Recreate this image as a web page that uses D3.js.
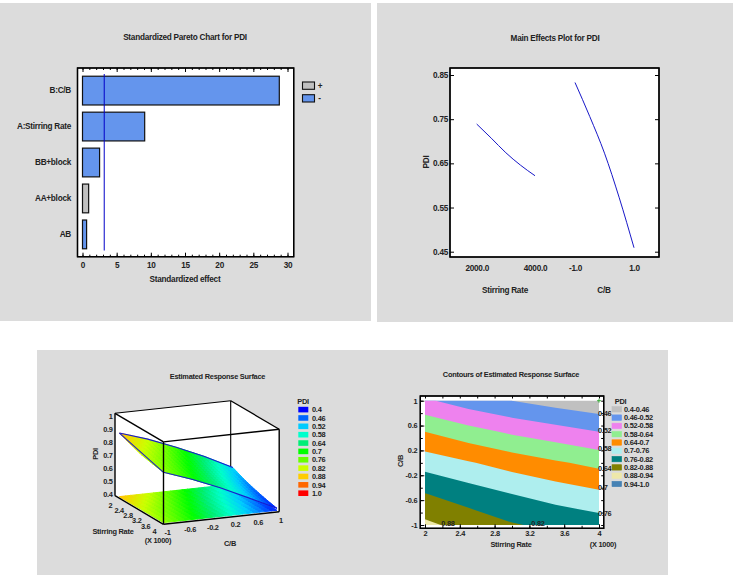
<!DOCTYPE html>
<html><head><meta charset="utf-8">
<script src="https://cdn.jsdelivr.net/npm/d3@7"></script>
<style>
html,body{margin:0;padding:0;background:#fff}
svg{display:block}
text{font-family:"Liberation Sans",Arial,sans-serif;font-weight:bold;fill:#222;letter-spacing:-.25px}
.tick text{font-family:"Liberation Sans",Arial,sans-serif}
</style></head><body>
<svg id="c" width="736" height="583"></svg>
<script>
// ---- data ----
const effectNames = ["B:C/B","A:Stirring Rate","BB+block","AA+block","AB"];
const effectValues = [28.8,9.1,2.5,0.9,0.6];
const effectSigns = ["-","-","-","+","-"];
const effectCritical = 3.18;
const rateLevels = [2000,2500,3000,3500,4000];
const rateEffect = [0.739,0.707,0.674,0.646,0.622];
const cbLevels = [-1,-0.5,0,0.5,1];
const cbEffect = [0.833,0.756,0.673,0.572,0.459];
const gridRates = [2,2.5,3,3.5,4];
const gridCb = [-1,-0.5,0,0.5,1];
// one row per C/B level, one column per stirring rate (x 1000)
const pdiRowCbM1 = [0.893,0.857,0.825,0.806,0.790];
const pdiRowCbM05 = [0.822,0.790,0.760,0.735,0.712];
const pdiRowCb0 = [0.735,0.705,0.675,0.648,0.623];
const pdiRowCb05 = [0.640,0.603,0.570,0.545,0.520];
const pdiRowCb1 = [0.530,0.490,0.460,0.435,0.415];
const surfaceLevels = [0.4,0.46,0.52,0.58,0.64,0.7,0.76,0.82,0.88,0.94,1.0];
const surfaceLabels = ["0.4","0.46","0.52","0.58","0.64","0.7","0.76","0.82","0.88","0.94","1.0"];
const surfaceColors = ["#0000ff","#0066ff","#00ccff","#00ffcc","#00ee77","#00ff00","#66ff00","#ccff00","#ffcc00","#ff6600","#ff0000"];
const bandThresholds = [0.4,0.46,0.52,0.58,0.64,0.7,0.76,0.82,0.88,0.94];
const bandLabels = ["0.4-0.46","0.46-0.52","0.52-0.58","0.58-0.64","0.64-0.7","0.7-0.76","0.76-0.82","0.82-0.88","0.88-0.94","0.94-1.0"];
const bandColors = ["#c0c0c0","#6495ed","#ee82ee","#90ee90","#ff8c00","#aeeeee","#008080","#808000","#eee8aa","#4682b4"];
const contourRightLabels = ["0.46","0.52","0.58","0.64","0.7","0.76"];
const contourBottomLabels = ["0.88","0.82"];
const ratesTicks3d = [2,2.4,2.8,3.2,3.6,4];
const cbTicks3d = [-1,-0.6,-0.2,0.2,0.6,1];
const pdiTicks3d = [0.4,0.5,0.6,0.7,0.8,0.9,1];
const pdiRows = [pdiRowCbM1,pdiRowCbM05,pdiRowCb0,pdiRowCb05,pdiRowCb1];

const svg = d3.select("#c");
const BG = "#dcdcdc", INK="#000", FS=8.2;
function panel(x,y,w,h){svg.append("rect").attr("x",x).attr("y",y).attr("width",w).attr("height",h).attr("fill",BG);}
function label(t,x,y,o={}){
  const s=svg.append("text").text(t).attr("x",x).attr("y",y).attr("dy",".35em")
    .attr("text-anchor",o.anchor||"middle").attr("font-size",o.size||FS);
  if(o.rot) s.attr("transform",`rotate(${o.rot} ${x} ${y})`);
  return s;
}
function frame(x0,y0,x1,y1,fill){
  return svg.append("rect").attr("x",x0).attr("y",y0).attr("width",x1-x0).attr("height",y1-y0)
    .attr("fill",fill||"none").attr("stroke",INK).attr("stroke-width",1.3);
}
function styleAxis(g,size){
  g.select(".domain").remove();
  g.selectAll("line").attr("stroke",INK).attr("stroke-width",1);
  g.selectAll("text").attr("font-size",size||FS).attr("fill","#222");
  g.attr("font-family",null).attr("font-size",null);
  return g;
}
panel(0,3,371,318);
panel(377,3,356,319);
panel(37,350,631,225);

// ---- Panel 1: Pareto ----
{
  const L=77.5,R=293.7,T=68,B=256.7;
  frame(L,T,R,B,"#fff");
  const x=d3.scaleLinear([0,30],[82.5,287.5]);
  const y=d3.scaleBand(effectNames,[75.5,249.5]).paddingInner(0.2).paddingOuter(0.02);
  const color={"+":"#c0c0c0","-":"#6495ed"};
  svg.append("g").selectAll("rect").data(effectNames).join("rect")
    .attr("x",x(0)).attr("y",d=>y(d)).attr("height",y.bandwidth())
    .attr("width",(d,i)=>x(effectValues[i])-x(0))
    .attr("fill",(d,i)=>color[effectSigns[i]]).attr("stroke","#111").attr("stroke-width",1.2);
  svg.append("line").attr("x1",x(effectCritical)).attr("x2",x(effectCritical)).attr("y1",74).attr("y2",250.5)
    .attr("stroke","#0000c8").attr("stroke-width",1);
  const minor=d3.range(0,31);
  const ax=(fn,yy,vals,size,fmt,pad)=>styleAxis(svg.append("g").attr("transform",`translate(0,${yy})`)
    .call(fn(x).tickValues(vals).tickSize(size).tickPadding(pad).tickFormat(fmt)));
  ax(d3.axisBottom,B,minor,-2,"",0);
  ax(d3.axisBottom,B,d3.range(0,31,5),-4,d3.format("d"),5);
  ax(d3.axisTop,T,minor,-2,"",0);
  ax(d3.axisTop,T,d3.range(0,31,5),-4,"",0);
  frame(L,T,R,B);
  effectNames.forEach(n=>label(n,71,y(n)+y.bandwidth()/2,{anchor:"end"}));
  label("Standardized Pareto Chart for PDI",185,37);
  label("Standardized effect",185,279);
  [["+",82,320],["-",94.7,319.5]].forEach(([s,yy,tx])=>{
    svg.append("rect").attr("x",302.5).attr("y",yy).attr("width",12).attr("height",7.3)
      .attr("fill",color[s]).attr("stroke","#111").attr("stroke-width",1.1);
    label(s,tx,yy+3.8);
  });
}

// ---- Panel 2: Main effects ----
{
  const L=450,R=659,T=68,B=257;
  frame(L,T,R,B,"#fff");
  const y=d3.scaleLinear([0.45,0.85],[251.7,75]);
  const xr=d3.scaleLinear([2000,4000],[476.7,535]);
  const xc=d3.scaleLinear([-1,1],[575,634]);
  const line=(sx)=>d3.line().curve(d3.curveMonotoneX).x(d=>sx(d[0])).y(d=>y(d[1]));
  svg.append("path").attr("d",line(xr)(d3.zip(rateLevels,rateEffect))).attr("fill","none").attr("stroke","#1818c8").attr("stroke-width",1);
  svg.append("path").attr("d",line(xc)(d3.zip(cbLevels,cbEffect))).attr("fill","none").attr("stroke","#1818c8").attr("stroke-width",1);
  const yt=[0.45,0.55,0.65,0.75,0.85];
  const f1=v=>v.toFixed(1);
  styleAxis(svg.append("g").attr("transform",`translate(${L},0)`).call(d3.axisLeft(y).tickValues(yt).tickSize(-4).tickPadding(2).tickFormat(d3.format(".2f"))));
  styleAxis(svg.append("g").attr("transform",`translate(${R},0)`).call(d3.axisRight(y).tickValues(yt).tickSize(-4).tickFormat("")));
  styleAxis(svg.append("g").attr("transform",`translate(0,${B})`).call(d3.axisBottom(xr).tickValues([2000,4000]).tickSize(0).tickPadding(8.5).tickFormat(f1)));
  styleAxis(svg.append("g").attr("transform",`translate(0,${B})`).call(d3.axisBottom(xc).tickValues([-1,1]).tickSize(0).tickPadding(8.5).tickFormat(f1)));
  frame(L,T,R,B);
  label("Main Effects Plot for PDI",555,38);
  label("PDI",426.5,162,{rot:-90});
  label("Stirring Rate",505,290);
  label("C/B",604,290);
}

// ---- Panel 3: 3D surface ----
{
  const u=d3.scaleLinear([1.8,4],[0,1]), v=d3.scaleLinear([-1,1.04],[0,1]);
  const h=d3.scaleLinear([0.387,1.026],[0,82.4]);
  const P=(r,c,z)=>[115+u(r)*48.5+v(c)*115.7, 495.7+u(r)*28.6-v(c)*12.6-h(z)];
  const rMin=1.8,rMax=4,cMin=-1,cMax=1.04,zMin=0.387,zMax=1.026;
  const col=d3.scaleLinear(surfaceLevels,surfaceColors);
  const seg=(a,b,w)=>svg.append("line").attr("x1",a[0]).attr("y1",a[1]).attr("x2",b[0]).attr("y2",b[1]).attr("stroke",INK).attr("stroke-width",w||1.4);
  const poly=pts=>pts.map(p=>p.join(",")).join(" ");
  // box faces
  svg.append("polygon").attr("fill","#fff").attr("points",poly([P(rMin,cMin,zMin),P(rMin,cMin,zMax),P(rMin,cMax,zMax),P(rMax,cMax,zMax),P(rMax,cMax,zMin),P(rMax,cMin,zMin)]));
  seg(P(rMin,cMin,zMax),P(rMin,cMax,zMax),1.1);
  seg(P(rMin,cMax,zMax),P(rMax,cMax,zMax),1.3);
  seg(P(rMin,cMax,zMax),P(rMin,cMax,zMin),1.1);
  // shading subdivision of the estimated grid
  const rq=d3.scaleLinear(d3.range(gridRates.length),gridRates);
  const cq=d3.scaleLinear(d3.range(gridCb.length),gridCb);
  const bil=(i,j)=>{
    const i0=Math.min(Math.floor(i),gridRates.length-2), j0=Math.min(Math.floor(j),gridCb.length-2);
    const a=i-i0,b=j-j0;
    return (1-a)*(1-b)*pdiRows[j0][i0]+a*(1-b)*pdiRows[j0][i0+1]+(1-a)*b*pdiRows[j0+1][i0]+a*b*pdiRows[j0+1][i0+1];
  };
  const sub=d3.range(0,4,0.2);
  const floorG=svg.append("g"), surfG=svg.append("g");
  sub.forEach(i=>sub.forEach(j=>{
    const i1=i+0.2,j1=j+0.2;
    const f=bil(i+0.1,j+0.1), fc=col(f);
    floorG.append("polygon").attr("points",poly([[i,j],[i1,j],[i1,j1],[i,j1]].map(q=>P(rq(q[0]),cq(q[1]),0.4))))
      .attr("fill",fc).attr("stroke",fc).attr("stroke-width",1);
    surfG.append("polygon").attr("points",poly([[i,j],[i1,j],[i1,j1],[i,j1]].map(q=>P(rq(q[0]),cq(q[1]),bil(q[0],q[1])))))
      .attr("fill",fc).attr("stroke",fc).attr("stroke-width",1);
  }));
  // surface edges
  const edge=[];
  gridCb.forEach((c,j)=>edge.push(P(2,c,pdiRows[j][0])));
  const edge2=[];
  gridCb.forEach((c,j)=>edge2.push(P(4,c,pdiRows[j][4])));
  const ln=d3.line();
  const ends=[P(2,-1,pdiRows[0][0]),P(4,-1,pdiRows[0][4])];
  [edge,edge2,ends].forEach(e=>svg.append("path").attr("d",ln(e)).attr("fill","none").attr("stroke","#1a1ad0").attr("stroke-width",1.1));
  // front edges
  seg(P(rMin,cMin,zMin),P(rMin,cMin,zMax));
  seg(P(rMin,cMin,zMax),P(rMax,cMin,zMax));
  seg(P(rMax,cMin,zMax),P(rMax,cMax,zMax));
  seg(P(rMax,cMax,zMax),P(rMax,cMax,zMin));
  seg(P(rMax,cMin,zMax),P(rMax,cMin,zMin));
  seg(P(rMin,cMin,zMin),P(rMax,cMin,zMin));
  seg(P(rMax,cMin,zMin),P(rMax,cMax,zMin));
  const fs=7.4;
  pdiTicks3d.forEach(z=>{const p=P(rMin,cMin,z); label(String(z),p[0]-2.3,p[1],{anchor:"end",size:fs});});
  ratesTicks3d.forEach(r=>{const p=P(r,cMin,zMin); label(String(r),p[0]-9,p[1]+7,{size:fs});});
  cbTicks3d.forEach(c=>{const p=P(rMax,c,zMin); label(String(c),p[0]+4,p[1]+8,{size:fs});});
  label("Estimated Response Surface",217.5,376.5,{size:fs});
  label("PDI",95,454,{rot:-90,size:fs});
  label("Stirring Rate",113,531.5,{size:fs});
  label("(X 1000)",158,540,{size:fs});
  label("C/B",230,543,{size:fs});
  label("PDI",303,401,{size:fs});
  const ly=d3.scalePoint(surfaceLabels,[409.7,493.3]);
  svg.append("g").selectAll("rect").data(surfaceLabels).join("rect")
    .attr("x",298.3).attr("y",d=>ly(d)-2.9).attr("width",10).attr("height",5.6)
    .attr("fill",(d,i)=>surfaceColors[i]);
  surfaceLabels.forEach(t=>label(t,312,ly(t),{anchor:"start",size:fs}));
}

// ---- Panel 4: contours ----
{
  const L=420.3,R=603.7,T=396,B=528.3;
  frame(L,T,R,B,"#fff");
  const x=d3.scaleLinear([2,4],[425,599]);
  const y=d3.scaleLinear([-1,1],[525,400.7]);
  svg.append("clipPath").attr("id","cl").append("rect")
    .attr("x",x(2)).attr("y",y(1)).attr("width",x(4)-x(2)).attr("height",y(-1)-y(1));
  const n=gridRates.length;
  const gx=d3.scaleLinear([0.5,n-0.5],[x(gridRates[0]),x(gridRates[n-1])]);
  const gy=d3.scaleLinear([0.5,n-0.5],[y(gridCb[0]),y(gridCb[n-1])]);
  const path=d3.geoPath(d3.geoTransform({point(a,b){this.stream.point(gx(a),gy(b));}}));
  const cs=d3.contours().size([n,n]).smooth(true).thresholds(bandThresholds)(pdiRows.flat());
  svg.append("g").attr("clip-path","url(#cl)").selectAll("path").data(cs).join("path")
    .attr("d",path).attr("fill",(d,i)=>bandColors[i]);
  const fs=7.4;
  const xm=d3.range(2,4.01,0.2), ym=d3.range(-1,1.01,0.2);
  const st=g=>{styleAxis(g,fs);return g;};
  const fmt=v=>String(v);
  st(svg.append("g").attr("transform",`translate(0,${B})`).call(d3.axisBottom(x).tickValues(xm).tickSize(-2.5).tickFormat("")));
  st(svg.append("g").attr("transform",`translate(0,${T})`).call(d3.axisTop(x).tickValues(xm).tickSize(-2.5).tickFormat("")));
  st(svg.append("g").attr("transform",`translate(${L},0)`).call(d3.axisLeft(y).tickValues(ym).tickSize(-2.5).tickFormat("")));
  st(svg.append("g").attr("transform",`translate(${R},0)`).call(d3.axisRight(y).tickValues(ym).tickSize(-2.5).tickFormat("")));
  st(svg.append("g").attr("transform",`translate(0,${B})`).call(d3.axisBottom(x).tickValues([2,2.4,2.8,3.2,3.6,4]).tickSize(-4).tickPadding(2.5).tickFormat(fmt)));
  st(svg.append("g").attr("transform",`translate(${L},0)`).call(d3.axisLeft(y).tickValues([-1,-0.6,-0.2,0.2,0.6,1]).tickSize(-4).tickPadding(3).tickFormat(fmt)));
  frame(L,T,R,B);
  svg.append("path").attr("d",`M${x(4)-2},${y(1)}h4M${x(4)},${y(1)-2}v4`).attr("stroke","#18a018").attr("stroke-width",0.8);
  label("Contours of Estimated Response Surface",511,374.5,{size:fs});
  label("C/B",400,461,{rot:-90,size:fs});
  label("Stirring Rate",511,544,{size:fs});
  label("(X 1000)",603,544,{size:fs});
  label("PDI",620.5,401,{size:fs});
  [413.3,430,448,468,487,513].forEach((yy,i)=>label(contourRightLabels[i],598,yy,{anchor:"start",size:fs}));
  label(contourBottomLabels[0],448,523,{size:fs});
  label(contourBottomLabels[1],538,523,{size:fs});
  const ly=d3.scalePoint(bandLabels,[409.3,484]);
  svg.append("g").selectAll("rect").data(bandLabels).join("rect")
    .attr("x",612).attr("y",d=>ly(d)-2.7).attr("width",9.6).attr("height",5.4)
    .attr("fill",(d,i)=>bandColors[i]).attr("stroke",(d,i)=>bandColors[i]).attr("stroke-width",0.6);
  bandLabels.forEach(t=>label(t,624,ly(t),{anchor:"start",size:fs}));
}
</script>
</body></html>
